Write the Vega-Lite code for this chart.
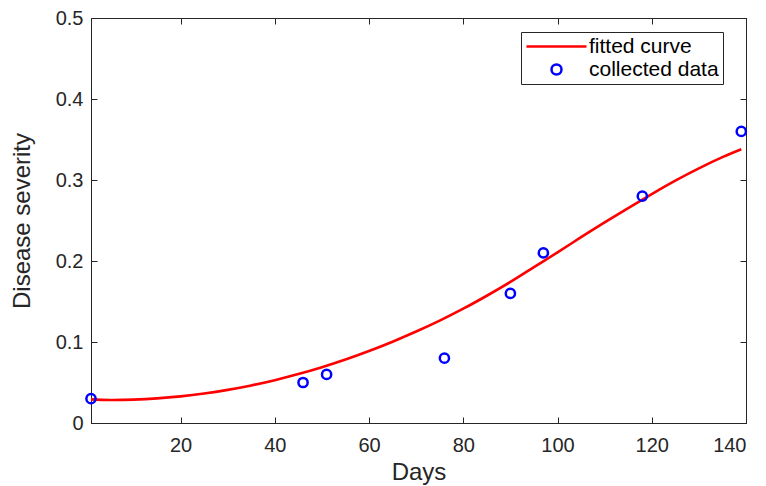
{
  "$schema": "https://vega.github.io/schema/vega-lite/v6.json",
  "width": 655,
  "height": 405,
  "autosize": {"type": "none"},
  "padding": {"left": 91, "top": 18, "right": 20, "bottom": 63},
  "background": "white",
  "config": {
    "view": {"stroke": "#262626", "strokeWidth": 1},
    "font": "Liberation Sans",
    "axis": {
      "grid": false,
      "domainColor": "#262626",
      "domainWidth": 1,
      "tickColor": "#262626",
      "tickSize": -6,
      "labelColor": "#262626",
      "labelFont": "Liberation Sans",
      "labelFontSize": 20,
      "titleFont": "Liberation Sans",
      "titleFontSize": 24,
      "titleFontWeight": "normal",
      "titleColor": "#262626"
    },
    "legend": {
      "orient": "none",
      "legendX": 430,
      "legendY": 14,
      "strokeColor": "#262626",
      "fillColor": "white",
      "padding": 4,
      "labelFont": "Liberation Sans",
      "labelFontSize": 21,
      "labelColor": "#000000",
      "symbolSize": 100,
      "symbolStrokeWidth": 2.5,
      "symbolOffset": 21,
      "labelOffset": 22,
      "rowPadding": 1
    }
  },
  "datasets": {
    "curve": [
      {"day": 1, "severity": 0.0292, "series": "fitted curve"},
      {"day": 5, "severity": 0.0284, "series": "fitted curve"},
      {"day": 10, "severity": 0.0289, "series": "fitted curve"},
      {"day": 15, "severity": 0.0304, "series": "fitted curve"},
      {"day": 20, "severity": 0.0329, "series": "fitted curve"},
      {"day": 25, "severity": 0.0364, "series": "fitted curve"},
      {"day": 30, "severity": 0.0409, "series": "fitted curve"},
      {"day": 35, "severity": 0.0464, "series": "fitted curve"},
      {"day": 40, "severity": 0.0529, "series": "fitted curve"},
      {"day": 45, "severity": 0.0604, "series": "fitted curve"},
      {"day": 50, "severity": 0.0689, "series": "fitted curve"},
      {"day": 55, "severity": 0.0784, "series": "fitted curve"},
      {"day": 60, "severity": 0.0889, "series": "fitted curve"},
      {"day": 65, "severity": 0.1004, "series": "fitted curve"},
      {"day": 70, "severity": 0.1129, "series": "fitted curve"},
      {"day": 75, "severity": 0.1264, "series": "fitted curve"},
      {"day": 80, "severity": 0.1411, "series": "fitted curve"},
      {"day": 85, "severity": 0.1571, "series": "fitted curve"},
      {"day": 90, "severity": 0.1741, "series": "fitted curve"},
      {"day": 95, "severity": 0.1924, "series": "fitted curve"},
      {"day": 100, "severity": 0.2107, "series": "fitted curve"},
      {"day": 105, "severity": 0.2294, "series": "fitted curve"},
      {"day": 110, "severity": 0.2477, "series": "fitted curve"},
      {"day": 115, "severity": 0.2654, "series": "fitted curve"},
      {"day": 120, "severity": 0.2827, "series": "fitted curve"},
      {"day": 125, "severity": 0.2992, "series": "fitted curve"},
      {"day": 130, "severity": 0.3144, "series": "fitted curve"},
      {"day": 135, "severity": 0.3282, "series": "fitted curve"},
      {"day": 139, "severity": 0.3380, "series": "fitted curve"}
    ],
    "observed": [
      {"day": 1, "severity": 0.03, "series": "collected data"},
      {"day": 46, "severity": 0.05, "series": "collected data"},
      {"day": 51, "severity": 0.06, "series": "collected data"},
      {"day": 76, "severity": 0.08, "series": "collected data"},
      {"day": 90, "severity": 0.16, "series": "collected data"},
      {"day": 97, "severity": 0.21, "series": "collected data"},
      {"day": 118, "severity": 0.28, "series": "collected data"},
      {"day": 139, "severity": 0.36, "series": "collected data"}
    ]
  },
  "layer": [
    {
      "data": {"name": "curve"},
      "mark": {"type": "line", "strokeWidth": 2.6, "interpolate": "natural"},
      "encoding": {
        "x": {"field": "day", "type": "quantitative", "scale": {"domain": [1, 140], "nice": false, "zero": false},
              "axis": {"orient": "bottom", "title": "Days", "values": [20, 40, 60, 80, 100, 120, 140], "labelPadding": 18, "titlePadding": 5}},
        "y": {"field": "severity", "type": "quantitative", "scale": {"domain": [0, 0.5], "nice": false},
              "axis": {"orient": "left", "title": "Disease severity", "values": [0, 0.1, 0.2, 0.3, 0.4, 0.5], "labelPadding": 14, "titlePadding": 21,
                       "labelExpr": "datum.value == 0 ? '0' : format(datum.value, '.1f')"}},
        "color": {"field": "series", "type": "nominal",
                  "scale": {"domain": ["fitted curve", "collected data"], "range": ["#ff0000", "#0000ff"]},
                  "legend": {"title": null}}
      }
    },
    {
      "data": {"name": "observed"},
      "mark": {"type": "point", "filled": false, "size": 85, "strokeWidth": 2.5, "opacity": 1},
      "encoding": {
        "x": {"field": "day", "type": "quantitative",
              "axis": {"orient": "top", "title": null, "labels": false, "values": [20, 40, 60, 80, 100, 120, 140]}},
        "y": {"field": "severity", "type": "quantitative",
              "axis": {"orient": "right", "title": null, "labels": false, "values": [0, 0.1, 0.2, 0.3, 0.4, 0.5]}},
        "color": {"field": "series", "type": "nominal", "legend": {"title": null}},
        "shape": {"field": "series", "type": "nominal",
                  "scale": {"domain": ["fitted curve", "collected data"], "range": ["M-6,0H6", "circle"]},
                  "legend": {"title": null}}
      }
    }
  ],
  "resolve": {"axis": {"x": "independent", "y": "independent"}}
}
